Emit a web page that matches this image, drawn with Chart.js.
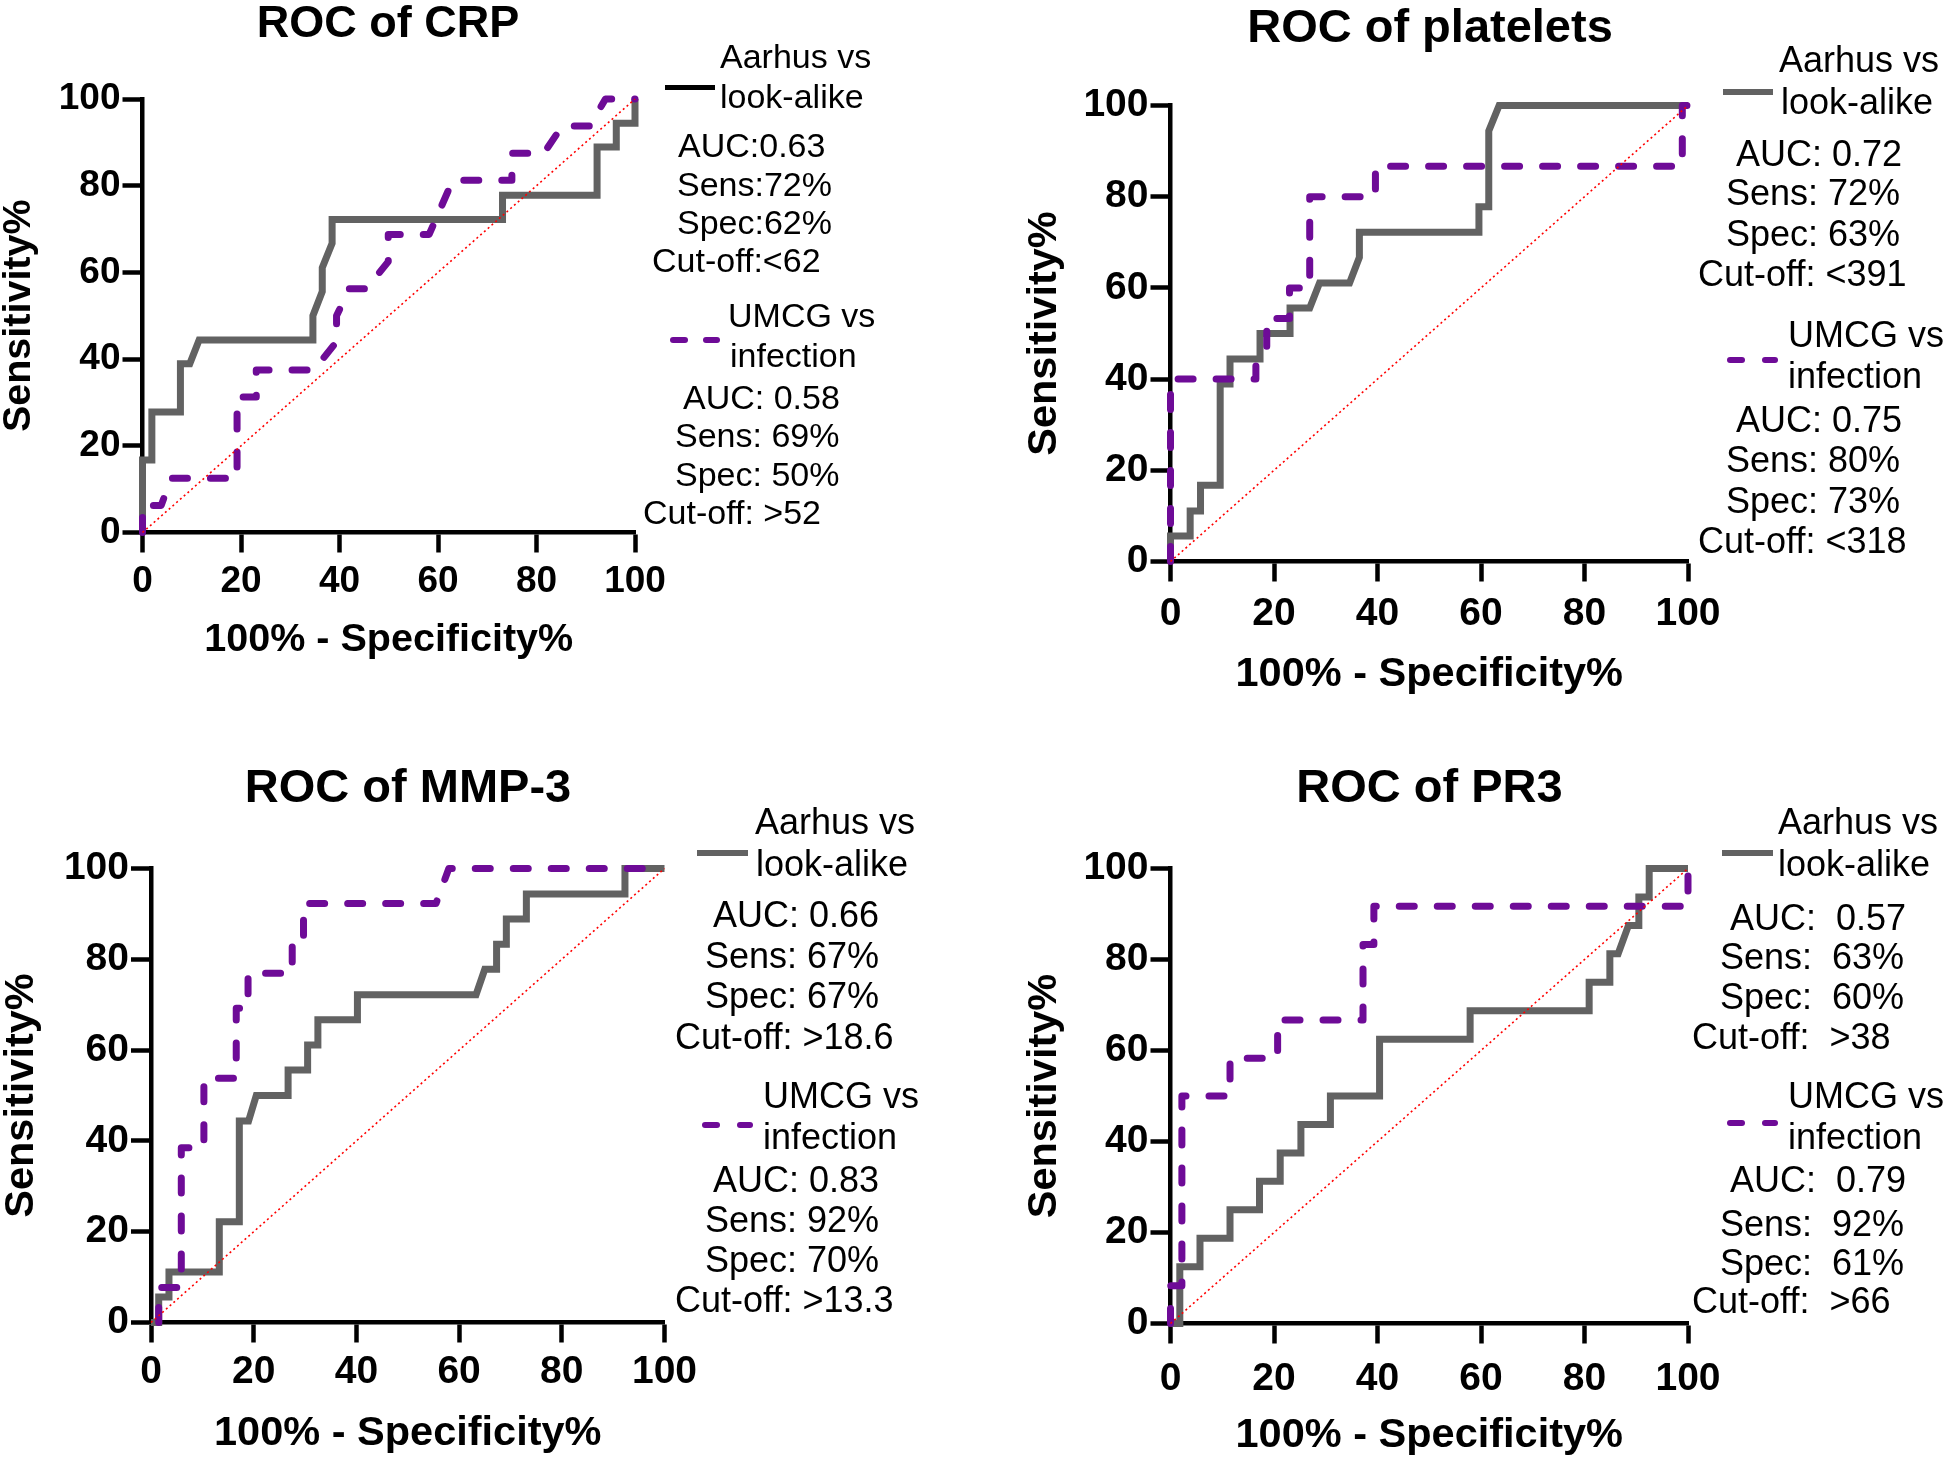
<!DOCTYPE html>
<html>
<head>
<meta charset="utf-8">
<script src="https://cdn.jsdelivr.net/npm/chart.js@4.4.1/dist/chart.umd.min.js"></script>
<style>
  html, body { margin: 0; padding: 0; background: #fff; }
  body { width: 1944px; height: 1460px; position: relative; overflow: hidden; font-family: Arial, "Liberation Sans", sans-serif; }
  canvas { position: absolute; }
  .t { position: absolute; white-space: pre; line-height: 1; color: #000; }
  .smp { position: absolute; }
</style>
</head>
<body>
<script>
// axis ticks and the chance line
const tickValues = [0, 20, 40, 60, 80, 100];
const refX = [0, 100];
const refY = [0, 100];
const xTitle = '100% - Specificity%';
const yTitle = 'Sensitivity%';

// legend labels
const groupA = ['Aarhus vs', 'look-alike'];
const groupB = ['UMCG vs', 'infection'];

// CRP
const crpAarhusX = [0, 0, 1.9, 1.9, 7.7, 7.7, 9.6, 11.5, 34.6, 34.6, 36.5, 36.5, 38.5, 38.5, 73.1, 73.1, 92.3, 92.3, 96.2, 96.2, 100, 100];
const crpAarhusY = [0, 16.7, 16.7, 27.8, 27.8, 38.9, 38.9, 44.4, 44.4, 50, 55.6, 61.1, 66.7, 72.2, 72.2, 77.8, 77.8, 88.9, 88.9, 94.4, 94.4, 100];
const crpUmcgX = [0, 0, 3.8, 5.8, 19.2, 19.2, 23.1, 23.1, 34.8, 39.4, 39.4, 42, 45.5, 49.9, 49.9, 58.2, 63, 75, 75, 81.5, 85.2, 90.8, 94, 100];
const crpUmcgY = [0, 6.25, 6.25, 12.5, 12.5, 31.25, 31.25, 37.5, 37.5, 44, 50, 56.25, 56.25, 62.5, 68.75, 68.75, 81.25, 81.25, 87.5, 87.5, 93.75, 93.75, 100, 100];
const crpStatsA = ['AUC:0.63', 'Sens:72%', 'Spec:62%', 'Cut-off:<62'];
const crpStatsB = ['AUC: 0.58', 'Sens: 69%', 'Spec: 50%', 'Cut-off: >52'];

// platelets
const pltAarhusX = [0, 0, 3.8, 3.8, 5.8, 5.8, 9.6, 9.6, 11.5, 11.5, 17.3, 17.3, 23.1, 23.1, 26.9, 28.8, 34.6, 36.5, 36.5, 59.6, 59.6, 61.5, 61.5, 63.5, 100];
const pltAarhusY = [0, 5.6, 5.6, 11.1, 11.1, 16.7, 16.7, 38.9, 38.9, 44.4, 44.4, 50, 50, 55.6, 55.6, 61.1, 61.1, 66.7, 72.2, 72.2, 77.8, 77.8, 94.4, 100, 100];
const pltUmcgX = [0, 0, 16.5, 16.5, 18.6, 18.6, 23, 23, 26.9, 26.9, 39.6, 39.6, 98.9, 98.9, 100];
const pltUmcgY = [0, 40, 40, 43.3, 46.7, 53.3, 53.3, 60, 60, 80, 80, 86.7, 86.7, 100, 100];
const pltStatsA = ['AUC: 0.72', 'Sens: 72%', 'Spec: 63%', 'Cut-off: <391'];
const pltStatsB = ['AUC: 0.75', 'Sens: 80%', 'Spec: 73%', 'Cut-off: <318'];

// MMP-3
const mmpAarhusX = [0, 1.5, 1.5, 3.5, 3.5, 13.3, 13.3, 17.2, 17.2, 19, 20.5, 26.7, 26.7, 30.5, 30.5, 32.5, 32.5, 40.2, 40.2, 63.3, 65, 67.3, 67.3, 69.2, 69.2, 73.1, 73.1, 92.3, 92.3, 100];
const mmpAarhusY = [0, 0, 5.6, 5.6, 11.1, 11.1, 22.2, 22.2, 44.4, 44.4, 50, 50, 55.6, 55.6, 61.1, 61.1, 66.7, 66.7, 72.2, 72.2, 77.8, 77.8, 83.3, 83.3, 88.9, 88.9, 94.4, 94.4, 100, 100];
const mmpUmcgX = [1.5, 1.5, 5.9, 5.9, 10.3, 10.3, 16.6, 16.6, 18.9, 18.9, 27.5, 27.5, 29.7, 29.7, 55.5, 58, 100];
const mmpUmcgY = [0, 7.7, 7.7, 38.5, 38.5, 53.8, 53.8, 69.2, 69.2, 76.9, 76.9, 84.6, 84.6, 92.3, 92.3, 100, 100];
const mmpStatsA = ['AUC: 0.66', 'Sens: 67%', 'Spec: 67%', 'Cut-off: >18.6'];
const mmpStatsB = ['AUC: 0.83', 'Sens: 92%', 'Spec: 70%', 'Cut-off: >13.3'];

// PR3
const pr3AarhusX = [0, 1.8, 1.8, 5.7, 5.7, 11.5, 11.5, 17.2, 17.2, 21.2, 21.2, 25.2, 25.2, 30.9, 30.9, 40.4, 40.4, 57.9, 57.9, 80.9, 80.9, 84.9, 84.9, 86.5, 88.5, 90.5, 90.5, 92.5, 92.5, 100];
const pr3AarhusY = [0, 0, 12.5, 12.5, 18.75, 18.75, 25, 25, 31.25, 31.25, 37.5, 37.5, 43.75, 43.75, 50, 50, 62.5, 62.5, 68.75, 68.75, 75, 75, 81.25, 81.25, 87.5, 87.5, 93.75, 93.75, 100, 100];
const pr3UmcgX = [0, 0, 2.2, 2.2, 11.5, 11.5, 20.7, 20.7, 37.2, 37.2, 39.3, 39.3, 100, 100];
const pr3UmcgY = [0, 8.3, 8.3, 50, 50, 58.3, 58.3, 66.7, 66.7, 83.3, 83.3, 91.7, 91.7, 100];
const pr3StatsA = ['AUC:  0.57', 'Sens:  63%', 'Spec:  60%', 'Cut-off:  >38'];
const pr3StatsB = ['AUC:  0.79', 'Sens:  92%', 'Spec:  61%', 'Cut-off:  >66'];

const FONT = 'Arial, "Liberation Sans", sans-serif';
const GRAY = '#626262';
const PURPLE = '#6e0b97';

// page layout for each panel (pixels)
const panels = [
  { title: 'ROC of CRP', xA: crpAarhusX, yA: crpAarhusY, xB: crpUmcgX, yB: crpUmcgY, sA: crpStatsA, sB: crpStatsB,
    cl: 0, ct: 0, area: { l: 142.5, r: 635, t: 99, b: 532.5 }, yTitleX: 19, xTickY: 582, xTitleY: 640, titleX: 388, titleY: 21,
    fTitle: 45, fAxis: 39.5, fTick: 37, fLeg: 34, sampleColor: '#000',
    legA: { sample: [665, 50, 87.5], left: [720, 720], cy: [55.8, 95.5] },
    statA: { left: [678, 677, 677, 652], cy: [145, 183.5, 222, 260] },
    legB: { sample: [670, 688, 703, 720, 340], left: [728, 730], cy: [315, 354.6] },
    statB: { left: [683, 675, 675, 643], cy: [396.7, 435, 473.6, 512] } },
  { title: 'ROC of platelets', xA: pltAarhusX, yA: pltAarhusY, xB: pltUmcgX, yB: pltUmcgY, sA: pltStatsA, sB: pltStatsB,
    cl: 1000, ct: 0, area: { l: 1170.5, r: 1688, t: 105.5, b: 561.5 }, yTitleX: 1045, xTickY: 614, xTitleY: 675, titleX: 1430, titleY: 25,
    fTitle: 47, fAxis: 41.5, fTick: 39, fLeg: 36, sampleColor: GRAY,
    legA: { sample: [1723, 50, 92], left: [1779, 1781], cy: [59.5, 101.7] },
    statA: { left: [1736, 1726, 1726, 1698], cy: [153.7, 193.4, 234.3, 274] },
    legB: { sample: [1727, 1745, 1762, 1778, 360], left: [1788, 1788], cy: [334.7, 375.7] },
    statB: { left: [1736, 1726, 1726, 1698], cy: [420, 460, 501, 540.6] } },
  { title: 'ROC of MMP-3', xA: mmpAarhusX, yA: mmpAarhusY, xB: mmpUmcgX, yB: mmpUmcgY, sA: mmpStatsA, sB: mmpStatsB,
    cl: 0, ct: 730, area: { l: 151, r: 664.5, t: 868.5, b: 1322.5 }, yTitleX: 22, xTickY: 1372, xTitleY: 1434, titleX: 408, titleY: 785,
    fTitle: 47, fAxis: 41.5, fTick: 39, fLeg: 36, sampleColor: GRAY,
    legA: { sample: [697, 51, 853], left: [755, 756], cy: [822, 864] },
    statA: { left: [713, 705, 705, 675], cy: [915, 956, 995.6, 1036.5] },
    legB: { sample: [702, 720, 737, 753, 1125], left: [763, 763], cy: [1096, 1137] },
    statB: { left: [713, 705, 705, 675], cy: [1180, 1220, 1260, 1299.5] } },
  { title: 'ROC of PR3', xA: pr3AarhusX, yA: pr3AarhusY, xB: pr3UmcgX, yB: pr3UmcgY, sA: pr3StatsA, sB: pr3StatsB,
    cl: 1000, ct: 730, area: { l: 1170.5, r: 1688, t: 868.5, b: 1323.5 }, yTitleX: 1045, xTickY: 1379, xTitleY: 1436, titleX: 1429.5, titleY: 785,
    fTitle: 47, fAxis: 41.5, fTick: 39, fLeg: 36, sampleColor: GRAY,
    legA: { sample: [1722, 51, 853], left: [1778, 1778], cy: [822, 864] },
    statA: { left: [1730, 1720, 1720, 1692], cy: [917.5, 957, 997, 1036.5] },
    legB: { sample: [1727, 1745, 1762, 1778, 1123], left: [1788, 1788], cy: [1096, 1137] },
    statB: { left: [1730, 1720, 1720, 1692], cy: [1180, 1223.6, 1263, 1300.6] } }
];

function pts(xs, ys) {
  return xs.map((x, i) => ({ x: x, y: ys[i] }));
}

function addText(txt, left, cy, size, bold, center) {
  const d = document.createElement('div');
  d.className = 't';
  d.textContent = txt;
  d.style.fontSize = size + 'px';
  d.style.left = left + 'px';
  d.style.top = (cy - size / 2) + 'px';
  if (bold) d.style.fontWeight = 'bold';
  if (center) d.style.transform = 'translateX(-50%)';
  document.body.appendChild(d);
}

function addBar(left, width, cy, h, color, radius) {
  const d = document.createElement('div');
  d.className = 'smp';
  d.style.left = left + 'px';
  d.style.width = width + 'px';
  d.style.top = (cy - h / 2) + 'px';
  d.style.height = h + 'px';
  d.style.background = color;
  if (radius) d.style.borderRadius = radius + 'px';
  document.body.appendChild(d);
}

function drawPanel(p) {
  const boxBottom = p.xTitleY + p.fAxis / 2;
  // room on the right so the last x label does not squeeze the plot
  const cw = Math.round(p.area.r - p.cl + 70);
  const ch = Math.round(boxBottom - p.ct + 10);
  const cv = document.createElement('canvas');
  cv.width = cw;
  cv.height = ch;
  cv.style.left = p.cl + 'px';
  cv.style.top = p.ct + 'px';
  cv.style.width = cw + 'px';
  cv.style.height = ch + 'px';
  document.body.appendChild(cv);

  const padLeft = p.yTitleX - p.cl - p.fAxis / 2;
  const yw = p.area.l - p.cl - padLeft;
  const xh = boxBottom - p.area.b;
  const tickFont = { family: FONT, size: p.fTick, weight: 'bold' };
  const axisFont = { family: FONT, size: p.fAxis, weight: 'bold', lineHeight: 1 };
  const grid = { display: true, drawOnChartArea: false, drawTicks: true, tickLength: 20, tickWidth: 4.5, tickColor: '#000' };
  const border = { display: true, width: 4.5, color: '#000' };
  const setTicks = s => { s.ticks = tickValues.map(v => ({ value: v })); };

  new Chart(cv, {
    type: 'scatter',
    data: {
      datasets: [
        { data: pts(refX, refY), showLine: true, borderColor: '#ff0000', borderWidth: 1.6, borderDash: [2, 3],
          pointRadius: 0, clip: false },
        { data: pts(p.xB, p.yB), showLine: true, borderColor: PURPLE, borderWidth: 7, borderDash: [15, 23],
          borderCapStyle: 'round', borderJoinStyle: 'round', pointRadius: 0, clip: false },
        { data: pts(p.xA, p.yA), showLine: true, borderColor: GRAY, borderWidth: 7, borderJoinStyle: 'miter',
          pointRadius: 0, clip: false }
      ]
    },
    options: {
      responsive: false,
      animation: false,
      devicePixelRatio: 1,
      layout: { padding: { left: padLeft, top: p.area.t - p.ct, right: cw - (p.area.r - p.cl), bottom: ch - (boxBottom - p.ct) } },
      plugins: { legend: { display: false }, tooltip: { enabled: false } },
      scales: {
        x: {
          type: 'linear', position: 'bottom', min: 0, max: 100,
          afterBuildTicks: setTicks,
          grid: grid, border: border,
          ticks: { font: tickFont, color: '#000', maxRotation: 0, padding: p.xTickY - p.area.b - 20 - 0.6 * p.fTick },
          title: { display: true, text: xTitle, font: axisFont, color: '#000', padding: 0 },
          afterFit: s => { s.height = xh; }
        },
        y: {
          type: 'linear', position: 'left', min: 0, max: 100,
          afterBuildTicks: setTicks,
          grid: grid, border: border,
          ticks: { font: tickFont, color: '#000', padding: 2 },
          title: { display: true, text: yTitle, font: axisFont, color: '#000', padding: 0 },
          afterFit: s => { s.width = yw; }
        }
      }
    }
  });

  // title
  addText(p.title, p.titleX, p.titleY, p.fTitle, true, true);

  // legend: Aarhus
  addBar(p.legA.sample[0], p.legA.sample[1], p.legA.sample[2], 5.5, p.sampleColor, 0);
  groupA.forEach((s, i) => addText(s, p.legA.left[i], p.legA.cy[i], p.fLeg, false, false));
  p.sA.forEach((s, i) => addText(s, p.statA.left[i], p.statA.cy[i], p.fLeg, false, false));

  // legend: UMCG
  const sb = p.legB.sample;
  addBar(sb[0], sb[1] - sb[0], sb[4], 6.5, PURPLE, 3);
  addBar(sb[2], sb[3] - sb[2], sb[4], 6.5, PURPLE, 3);
  groupB.forEach((s, i) => addText(s, p.legB.left[i], p.legB.cy[i], p.fLeg, false, false));
  p.sB.forEach((s, i) => addText(s, p.statB.left[i], p.statB.cy[i], p.fLeg, false, false));
}

panels.forEach(drawPanel);
</script>
</body>
</html>
